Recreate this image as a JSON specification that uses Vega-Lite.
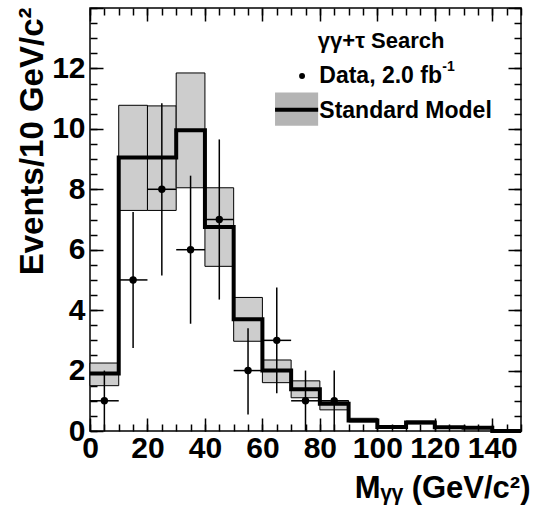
{
  "$schema": "https://vega.github.io/schema/vega-lite/v6.json",
  "width": 431,
  "height": 423,
  "autosize": "none",
  "padding": {"left": 90, "top": 8, "right": 14, "bottom": 77},
  "background": "white",
  "config": {
    "view": {"stroke": "black", "strokeWidth": 1.5},
    "font": "Liberation Sans",
    "axis": {
      "domain": false, "grid": false, "tickColor": "black", "tickWidth": 1.5,
      "labelFont": "Liberation Sans", "labelFontWeight": "bold", "labelFontSize": 30, "labelColor": "black",
      "titleFont": "Liberation Sans", "titleFontWeight": "bold", "titleFontSize": 30, "titleColor": "black",
      "labelOverlap": false, "labelFlush": false
    }
  },
  "datasets": {
    "sm": [
      {"x0": 0, "x1": 10, "c": 1.9, "lo": 1.5, "hi": 2.25},
      {"x0": 10, "x1": 20, "c": 9.05, "lo": 7.3, "hi": 10.78},
      {"x0": 20, "x1": 30, "c": 9.05, "lo": 7.3, "hi": 10.76},
      {"x0": 30, "x1": 40, "c": 9.95, "lo": 8.05, "hi": 11.85},
      {"x0": 40, "x1": 50, "c": 6.75, "lo": 5.45, "hi": 8.05},
      {"x0": 50, "x1": 60, "c": 3.7, "lo": 2.97, "hi": 4.42},
      {"x0": 60, "x1": 70, "c": 2.0, "lo": 1.6, "hi": 2.35},
      {"x0": 70, "x1": 80, "c": 1.38, "lo": 1.1, "hi": 1.66},
      {"x0": 80, "x1": 90, "c": 0.9, "lo": 0.7, "hi": 1.0},
      {"x0": 90, "x1": 100, "c": 0.35, "lo": 0.3, "hi": 0.42},
      {"x0": 100, "x1": 110, "c": 0.13, "lo": 0.1, "hi": 0.17},
      {"x0": 110, "x1": 120, "c": 0.28, "lo": 0.24, "hi": 0.33},
      {"x0": 120, "x1": 130, "c": 0.12, "lo": 0.09, "hi": 0.15},
      {"x0": 130, "x1": 140, "c": 0.11, "lo": 0.08, "hi": 0.14},
      {"x0": 140, "x1": 150, "c": 0.0, "lo": 0.0, "hi": 0.02}
    ],
    "smline": [
      {"x": 0, "y": 1.9}, {"x": 10, "y": 9.05}, {"x": 20, "y": 9.05}, {"x": 30, "y": 9.95},
      {"x": 40, "y": 6.75}, {"x": 50, "y": 3.7}, {"x": 60, "y": 2.0}, {"x": 70, "y": 1.38},
      {"x": 80, "y": 0.9}, {"x": 90, "y": 0.35}, {"x": 100, "y": 0.13}, {"x": 110, "y": 0.28},
      {"x": 120, "y": 0.12}, {"x": 130, "y": 0.11}, {"x": 140, "y": 0.0}, {"x": 150, "y": 0.0}
    ],
    "obs": [
      {"x": 5, "xl": 0, "xr": 10, "n": 1, "lo": 0, "hi": 2.0},
      {"x": 15, "xl": 10, "xr": 20, "n": 5, "lo": 2.75, "hi": 7.25},
      {"x": 25, "xl": 20, "xr": 30, "n": 8, "lo": 5.15, "hi": 10.85},
      {"x": 35, "xl": 30, "xr": 40, "n": 6, "lo": 3.55, "hi": 8.45},
      {"x": 45, "xl": 40, "xr": 50, "n": 7, "lo": 4.35, "hi": 9.65},
      {"x": 55, "xl": 50, "xr": 60, "n": 2, "lo": 0.55, "hi": 3.4},
      {"x": 65, "xl": 60, "xr": 70, "n": 3, "lo": 1.25, "hi": 4.75},
      {"x": 75, "xl": 70, "xr": 80, "n": 1, "lo": 0, "hi": 2.0},
      {"x": 85, "xl": 80, "xr": 90, "n": 1, "lo": 0, "hi": 2.0}
    ],
    "legtext": [
      {"x": 79.3, "y": 12.9, "t": "γγ+τ Search", "s": 22},
      {"x": 79.8, "y": 11.75, "t": "Data, 2.0 fb", "s": 23},
      {"x": 122.6, "y": 12.05, "t": "-1", "s": 14},
      {"x": 79.8, "y": 10.6, "t": "Standard Model", "s": 23}
    ],
    "legbox": [{"x0": 64.4, "x1": 79.4, "y0": 10.1, "y1": 11.2, "ym": 10.63}],
    "legdot": [{"x": 73.8, "y": 11.75}]
  },
  "resolve": {"axis": {"x": "independent", "y": "independent"}},
  "layer": [
    {
      "data": {"name": "sm"},
      "mark": {"type": "rect", "fill": "#cdcdcd", "stroke": "black", "strokeWidth": 1},
      "encoding": {
        "x": {"field": "x0", "type": "quantitative", "scale": {"domain": [0, 150], "nice": false, "zero": false},
          "axis": {"orient": "bottom", "values": [0, 20, 40, 60, 80, 100, 120, 140], "tickSize": -13, "labelPadding": 15,
            "title": "Mᵧᵧ (GeV/c²)", "titleFontSize": 31, "titleAnchor": "end", "titleAlign": "right", "titleX": 440, "titleY": 66, "titleBaseline": "alphabetic"}},
        "x2": {"field": "x1"},
        "y": {"field": "lo", "type": "quantitative", "scale": {"domain": [0, 14], "nice": false, "zero": false},
          "axis": {"orient": "left", "values": [0, 2, 4, 6, 8, 10, 12, 14], "labelExpr": "datum.value == 14 ? '' : datum.label",
            "tickSize": -13, "labelPadding": 18,
            "title": "Events/10 GeV/c²", "titleFontSize": 33, "titleAngle": -90, "titleAlign": "right", "titleBaseline": "alphabetic", "titleX": -48, "titleY": -1}},
        "y2": {"field": "hi"}
      }
    },
    {
      "data": {"name": "smline"},
      "mark": {"type": "line", "interpolate": "step-after", "color": "black", "strokeWidth": 4},
      "encoding": {
        "x": {"field": "x", "type": "quantitative", "scale": {"domain": [0, 150], "nice": false, "zero": false},
          "axis": {"orient": "bottom", "values": [0,5,10,15,20,25,30,35,40,45,50,55,60,65,70,75,80,85,90,95,100,105,110,115,120,125,130,135,140,145,150], "tickSize": -7, "labels": false, "title": null}},
        "y": {"field": "y", "type": "quantitative", "scale": {"domain": [0, 14], "nice": false, "zero": false},
          "axis": {"orient": "left", "values": [0,0.5,1,1.5,2,2.5,3,3.5,4,4.5,5,5.5,6,6.5,7,7.5,8,8.5,9,9.5,10,10.5,11,11.5,12,12.5,13,13.5,14], "tickSize": -7, "labels": false, "title": null}}
      }
    },
    {
      "data": {"name": "obs"},
      "mark": {"type": "rule", "color": "black", "strokeWidth": 1.5},
      "encoding": {
        "x": {"field": "x", "type": "quantitative", "scale": {"domain": [0, 150], "nice": false, "zero": false},
          "axis": {"orient": "top", "values": [0, 20, 40, 60, 80, 100, 120, 140], "tickSize": -13, "labels": false, "title": null}},
        "y": {"field": "lo", "type": "quantitative", "scale": {"domain": [0, 14], "nice": false, "zero": false},
          "axis": {"orient": "right", "values": [0, 2, 4, 6, 8, 10, 12, 14], "tickSize": -13, "labels": false, "title": null}},
        "y2": {"field": "hi"}
      }
    },
    {
      "data": {"name": "obs"},
      "mark": {"type": "rule", "color": "black", "strokeWidth": 1.5},
      "encoding": {
        "x": {"field": "xl", "type": "quantitative", "scale": {"domain": [0, 150], "nice": false, "zero": false},
          "axis": {"orient": "top", "values": [0,5,10,15,20,25,30,35,40,45,50,55,60,65,70,75,80,85,90,95,100,105,110,115,120,125,130,135,140,145,150], "tickSize": -7, "labels": false, "title": null}},
        "x2": {"field": "xr"},
        "y": {"field": "n", "type": "quantitative", "scale": {"domain": [0, 14], "nice": false, "zero": false},
          "axis": {"orient": "right", "values": [0,0.5,1,1.5,2,2.5,3,3.5,4,4.5,5,5.5,6,6.5,7,7.5,8,8.5,9,9.5,10,10.5,11,11.5,12,12.5,13,13.5,14], "tickSize": -7, "labels": false, "title": null}}
      }
    },
    {
      "data": {"name": "obs"},
      "mark": {"type": "point", "filled": true, "color": "black", "opacity": 1, "size": 55},
      "encoding": {
        "x": {"field": "x", "type": "quantitative", "axis": null},
        "y": {"field": "n", "type": "quantitative", "axis": null}
      }
    },
    {
      "data": {"name": "legbox"},
      "mark": {"type": "rect", "fill": "#b4b4b4"},
      "encoding": {
        "x": {"field": "x0", "type": "quantitative", "axis": null},
        "x2": {"field": "x1"},
        "y": {"field": "y0", "type": "quantitative", "axis": null},
        "y2": {"field": "y1"}
      }
    },
    {
      "data": {"name": "legbox"},
      "mark": {"type": "rule", "color": "black", "strokeWidth": 4},
      "encoding": {
        "x": {"field": "x0", "type": "quantitative", "axis": null},
        "x2": {"field": "x1"},
        "y": {"field": "ym", "type": "quantitative", "axis": null}
      }
    },
    {
      "data": {"name": "legdot"},
      "mark": {"type": "point", "filled": true, "color": "black", "opacity": 1, "size": 35},
      "encoding": {
        "x": {"field": "x", "type": "quantitative", "axis": null},
        "y": {"field": "y", "type": "quantitative", "axis": null}
      }
    },
    {
      "data": {"name": "legtext"},
      "mark": {"type": "text", "align": "left", "baseline": "middle", "fontWeight": "bold", "font": "Liberation Sans", "color": "black"},
      "encoding": {
        "x": {"field": "x", "type": "quantitative", "axis": null},
        "y": {"field": "y", "type": "quantitative", "axis": null},
        "text": {"field": "t"},
        "size": {"field": "s", "type": "quantitative", "scale": null}
      }
    }
  ]
}
